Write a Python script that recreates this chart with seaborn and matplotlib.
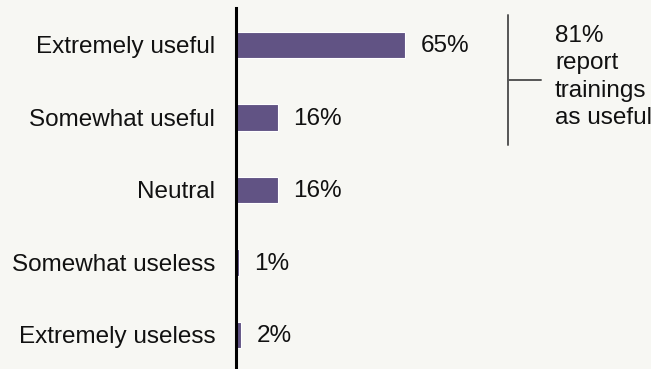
import matplotlib
matplotlib.use("Agg")
import matplotlib.pyplot as plt
import seaborn as sns
import pandas as pd
from matplotlib.lines import Line2D

categories = ["Extremely useful", "Somewhat useful", "Neutral", "Somewhat useless", "Extremely useless"]
values = [65, 16, 16, 1, 2]
labels = ["65%", "16%", "16%", "1%", "2%"]
note_text = "81%\nreport\ntrainings\nas useful"

df = pd.DataFrame({"category": categories, "value": values})

sns.set_theme(style="white")
plt.rcParams["font.family"] = ["Liberation Sans", "DejaVu Sans"]

bg = "#f7f7f3"
W, H = 651, 369
fig = plt.figure(figsize=(W / 100, H / 100), dpi=100, facecolor=bg)
ax = fig.add_axes([236 / W, 0, 1 - 236 / W, (369 - 8) / H])
ax.set_facecolor(bg)

sns.barplot(data=df, x="value", y="category", order=categories, color="#615384",
            saturation=1, width=0.37, edgecolor="#ffffff", linewidth=0.8, ax=ax)

ax.set_xlim(0, 415 / 2.6)
ax.set_ylim(4 + 34 / 72.5, -37 / 72.5)
ax.set_xlabel("")
ax.set_ylabel("")
ax.set_xticks([])
for s in ["top", "right", "bottom"]:
    ax.spines[s].set_visible(False)
ax.spines["left"].set_color("#000000")
ax.spines["left"].set_linewidth(2.2)
ax.tick_params(axis="y", length=0, pad=15, labelsize=17.5, labelcolor="#111111")

for i, (v, lab) in enumerate(zip(values, labels)):
    ax.annotate(lab, xy=(v, i), xytext=(11.5, -1), textcoords="offset points",
                va="center", ha="left", fontsize=17.5, color="#111111")

def fx(px):
    return px / W

def fy(py):
    return 1 - py / H

fig.add_artist(Line2D([fx(508), fx(508)], [fy(15), fy(145)], transform=fig.transFigure,
                      color="#555555", linewidth=1.4))
fig.add_artist(Line2D([fx(508), fx(541)], [fy(80), fy(80)], transform=fig.transFigure,
                      color="#555555", linewidth=1.4))
fig.text(fx(555), fy(77), note_text, ha="left", va="center", fontsize=17.5,
         color="#111111", linespacing=1.3)

fig.savefig("out.png", dpi=100, facecolor=bg)
